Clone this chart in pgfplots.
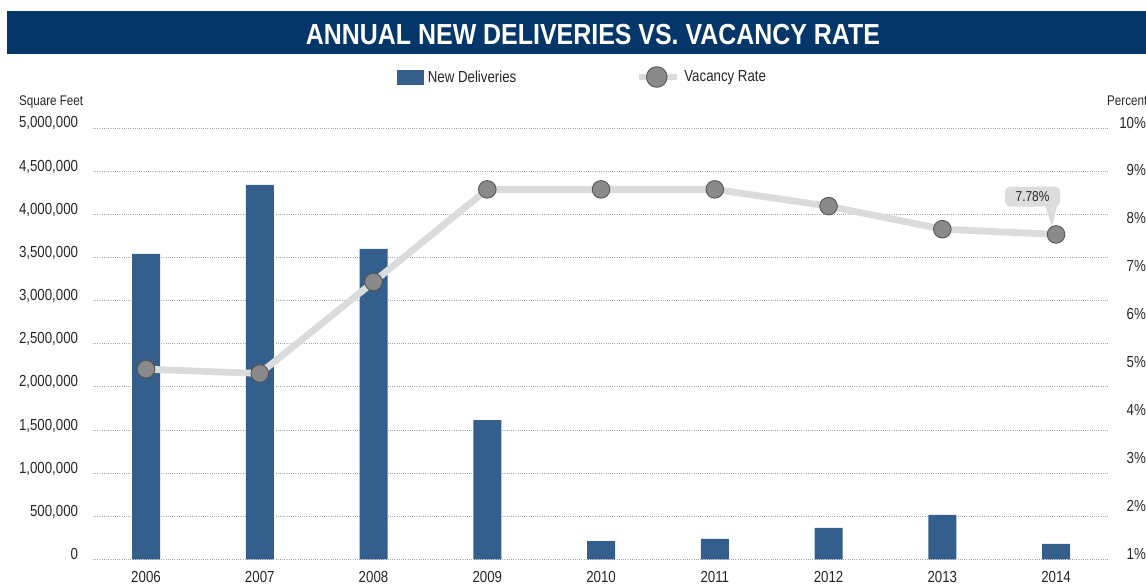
\documentclass[border=0pt]{standalone}
\usepackage{pgfplots}
\pgfplotsset{compat=1.18}
\usepackage{pgfplotstable}
\usepackage{fontspec}
\setmainfont{Liberation Sans}[FakeStretch=0.83]
\newfontfamily\titlefont{Liberation Sans}[FakeStretch=0.86]
\definecolor{titleblue}{HTML}{04366A}
\definecolor{barblue}{HTML}{345E8B}
\definecolor{linegray}{HTML}{DADBDC}
\definecolor{markgray}{HTML}{8A8A8A}
\definecolor{markedge}{HTML}{555555}
\definecolor{txt}{HTML}{262626}
\definecolor{gridgray}{HTML}{A8A8A8}
\definecolor{callgray}{HTML}{DCDCDC}

\pgfplotstableread{
x deliv vac
0 3540000 4.97
1 4340000 4.88
2 3600000 6.79
3 1616000 8.72
4 214000 8.72
5 238000 8.72
6 365000 8.37
7 516000 7.89
8 180000 7.78
}\datatable

\begin{document}
\begin{tikzpicture}[x=1pt,y=1pt]
\path[use as bounding box] (0,0) rectangle (1146,585);
\fill[titleblue] (7,530.7) rectangle (1150,574);
\node[anchor=base, text=white, font=\titlefont\bfseries\fontsize{29}{32}\selectfont, inner sep=0pt] at (593,540) {ANNUAL NEW DELIVERIES VS.\ VACANCY RATE};
\node[anchor=base west, text=txt, font=\fontsize{14}{16}\selectfont, inner sep=0pt] at (19,479.5) {Square Feet};
\node[anchor=base west, text=txt, font=\fontsize{14}{16}\selectfont, inner sep=0pt] at (1107,479.5) {Percent};

\begin{axis}[
  at={(93pt,25.5pt)}, anchor=south west, scale only axis,
  width=1016pt, height=431.5pt,
  xmin=-0.466, xmax=8.466, ymin=0, ymax=5000000,
  axis line style={draw=none}, tick style={draw=none},
  xtick={0,1,2,3,4,5,6,7,8},
  xticklabels={2006,2007,2008,2009,2010,2011,2012,2013,2014},
  ytick={0,500000,1000000,1500000,2000000,2500000,3000000,3500000,4000000,4500000,5000000},
  yticklabels={0,{500,000},{1,000,000},{1,500,000},{2,000,000},{2,500,000},{3,000,000},{3,500,000},{4,000,000},{4,500,000},{5,000,000}},
  scaled y ticks=false,
  ymajorgrids, grid style={gridgray, line width=0.8pt, dash pattern=on 1pt off 1.2pt},
  ticklabel style={font=\fontsize{16}{18}\selectfont, text=txt, inner sep=0pt},
  yticklabel style={anchor=base east, xshift=-14.7pt},
  xticklabel style={anchor=base, yshift=-19pt},
  ybar, bar width=28pt,
]
\addplot[fill=barblue, draw=none, bar shift=0pt] table[x=x,y=deliv]{\datatable};
\end{axis}

\begin{axis}[
  at={(93pt,25.5pt)}, anchor=south west, scale only axis,
  width=1016pt, height=431.5pt,
  xmin=-0.466, xmax=8.466, ymin=1, ymax=10,
  axis x line=none, axis y line*=right,
  axis line style={draw=none}, tick style={draw=none},
  ytick={1,2,3,4,5,6,7,8,9,10},
  yticklabels={1\%,2\%,3\%,4\%,5\%,6\%,7\%,8\%,9\%,10\%},
  ticklabel style={font=\fontsize{16}{18}\selectfont, text=txt, inner sep=0pt},
  yticklabel style={anchor=base east, xshift=37pt},
  legend cell align=left,
  legend columns=2,
  legend style={at={(0.2992,1.1182)}, anchor=west, draw=none, fill=none, inner sep=0pt,
    font=\fontsize{16}{18}\selectfont, text=txt,
    nodes={inner sep=0pt},
    /tikz/every odd column/.append style={column sep=4.2pt},
    /tikz/every even column/.append style={column sep=119pt}},
]
\addlegendimage{legend image code/.code={\fill[barblue] (0pt,-7pt) rectangle (26pt,7pt);}}
\addlegendentry{New Deliveries}
\addplot[linegray, line width=6.8pt, line join=round, mark=*, mark size=8.8pt,
  mark options={fill=markgray, draw=markedge, line width=0.9pt},
  legend image code/.code={
    \draw[linegray, line width=6.8pt] (0pt,0pt) -- (38pt,0pt);
    \filldraw[fill=markgray, draw=markedge, line width=0.9pt] (18pt,0pt) circle (10.3pt);}
] table[x=x,y=vac]{\datatable};
\addlegendentry{Vacancy Rate}
\fill[callgray] (axis cs:8,7.78) ++(-11pt,28.7pt) -- ++(12pt,0pt) -- ++(-5pt,-21pt) -- cycle;
\node[fill=callgray, rounded corners=5pt, minimum width=55pt, minimum height=20pt, inner sep=0pt,
  font=\fontsize{14.4}{16}\selectfont, text=txt, xshift=-23.5pt, yshift=37.7pt] at (axis cs:8,7.78) {7.78\%};
\end{axis}
\end{tikzpicture}
\end{document}
